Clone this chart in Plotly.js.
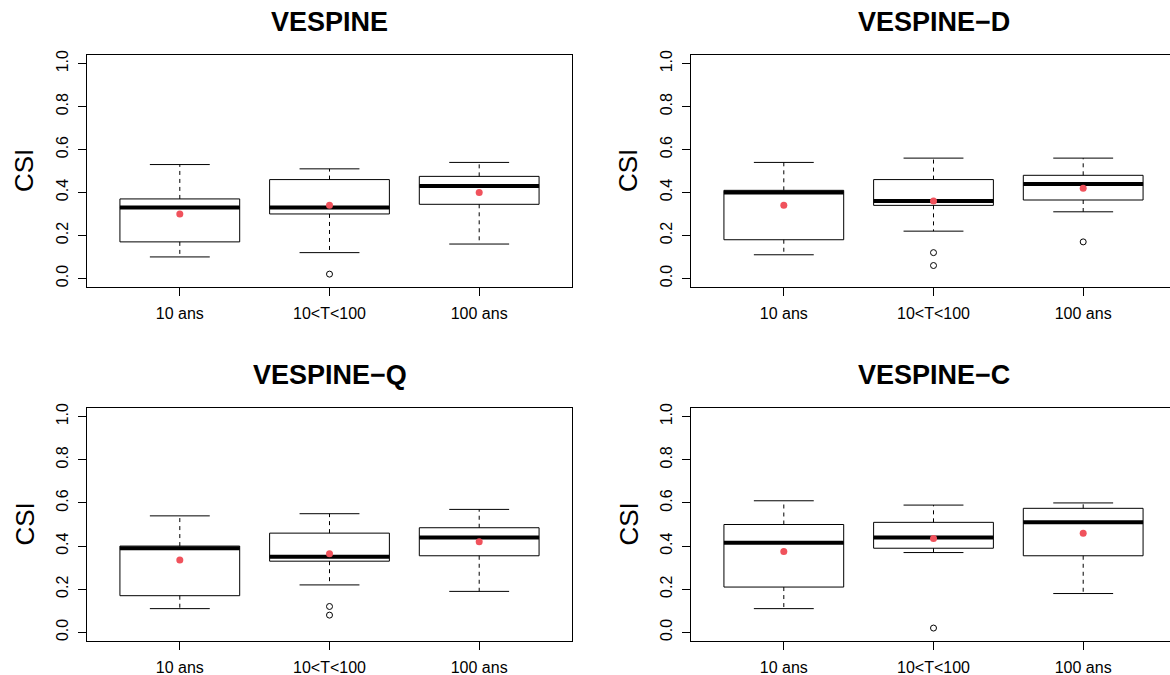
<!DOCTYPE html>
<html>
<head>
<meta charset="utf-8">
<script src="https://cdn.plot.ly/plotly-3.0.1.min.js"></script>
<style>
  html, body { margin: 0; padding: 0; background: #ffffff; }
  #chart { width: 1170px; height: 675px; }
</style>
</head>
<body>
<div id="chart"></div>
<script>
// ---------------- data ----------------
var categories = ['10 ans', '10<T<100', '100 ans'];
var panelTitles = ['VESPINE', 'VESPINE\u2212D', 'VESPINE\u2212Q', 'VESPINE\u2212C'];
var yLabel = 'CSI';
var yTickVals = [0, 0.2, 0.4, 0.6, 0.8, 1.0];
var yTickText = ['0.0', '0.2', '0.4', '0.6', '0.8', '1.0'];

// one row per panel, one value per category
var lowerWhisker = [
  [0.10, 0.12, 0.16],
  [0.11, 0.22, 0.31],
  [0.11, 0.22, 0.19],
  [0.11, 0.37, 0.18]
];
var q1 = [
  [0.17, 0.30, 0.345],
  [0.18, 0.34, 0.365],
  [0.17, 0.33, 0.355],
  [0.21, 0.39, 0.355]
];
var median = [
  [0.33, 0.33, 0.43],
  [0.40, 0.36, 0.44],
  [0.39, 0.35, 0.44],
  [0.415, 0.44, 0.51]
];
var q3 = [
  [0.37, 0.46, 0.475],
  [0.41, 0.46, 0.48],
  [0.40, 0.46, 0.485],
  [0.50, 0.51, 0.575]
];
var upperWhisker = [
  [0.53, 0.51, 0.54],
  [0.54, 0.56, 0.56],
  [0.54, 0.55, 0.57],
  [0.61, 0.59, 0.60]
];
var means = [
  [0.30, 0.34, 0.40],
  [0.34, 0.36, 0.42],
  [0.335, 0.365, 0.42],
  [0.375, 0.435, 0.46]
];
var outliers = [
  [[], [0.02], []],
  [[], [0.12, 0.06], [0.17]],
  [[], [0.12, 0.08], []],
  [[], [0.02], []]
];

// ---------------- drawing ----------------
var FONT = 'Liberation Sans, Arial, Helvetica, sans-serif';
var W = 1170, H = 675;
var BOX_W = 0.8, CAP_W = 0.4;
var pos = categories.map(function (c, i) { return i + 1; });

// plot-region geometry in pixels (left, right, top, bottom)
var pxPerUnit = (572 - 87) / 3.24;
var regions = [
  { l: 87,  r: 572,  t: 55,  b: 287 },
  { l: 691, r: 1170, t: 55,  b: 287 },
  { l: 87,  r: 572,  t: 408, b: 641 },
  { l: 691, r: 1170, t: 408, b: 641 }
];

var traces = [];
var layout = {
  width: W, height: H,
  margin: { l: 0, r: 0, t: 0, b: 0 },
  paper_bgcolor: '#ffffff',
  plot_bgcolor: '#ffffff',
  showlegend: false,
  hovermode: false,
  font: { family: FONT, color: '#000000', size: 16 },
  annotations: []
};

panelTitles.forEach(function (title, p) {
  var rg = regions[p];
  var xa = 'x' + (p === 0 ? '' : p + 1);
  var ya = 'y' + (p === 0 ? '' : p + 1);
  var xKey = 'xaxis' + (p === 0 ? '' : p + 1);
  var yKey = 'yaxis' + (p === 0 ? '' : p + 1);
  var cutRight = (p % 2 === 1);

  layout[xKey] = {
    domain: [rg.l / W, rg.r / W],
    range: [0.38, 0.38 + (rg.r - rg.l) / pxPerUnit],
    anchor: ya,
    tickmode: 'array', tickvals: pos, ticktext: categories,
    ticks: 'outside', ticklen: 8, tickwidth: 1, tickcolor: '#000',
    ticklabelstandoff: 4,
    showline: true, mirror: true, linecolor: '#000', linewidth: 1,
    showgrid: false, zeroline: false,
    tickfont: { family: FONT, size: 16, color: '#000' },
    fixedrange: true
  };
  layout[yKey] = {
    domain: [1 - rg.b / H, 1 - rg.t / H],
    range: [-0.04, 1.04],
    anchor: xa,
    tickmode: 'array', tickvals: yTickVals, ticktext: yTickText,
    tickangle: -90,
    ticks: 'outside', ticklen: 8, tickwidth: 1, tickcolor: '#000',
    ticklabelstandoff: 4,
    showline: true, mirror: cutRight ? false : true, linecolor: '#000', linewidth: 1,
    showgrid: false, zeroline: false,
    tickfont: { family: FONT, size: 16, color: '#000' },
    fixedrange: true
  };

  // boxes (whiskers drawn separately, dashed as in R)
  traces.push({
    type: 'box', xaxis: xa, yaxis: ya,
    x: pos, q1: q1[p], median: median[p], q3: q3[p],
    lowerfence: q1[p], upperfence: q3[p],
    width: BOX_W, whiskerwidth: 0,
    fillcolor: '#ffffff',
    line: { color: '#000000', width: 1 },
    boxpoints: false, hoverinfo: 'skip'
  });

  // dashed whiskers
  var wx = [], wy = [];
  pos.forEach(function (x, i) {
    wx.push(x, x, null, x, x, null);
    wy.push(q3[p][i], upperWhisker[p][i], null, q1[p][i], lowerWhisker[p][i], null);
  });
  traces.push({
    type: 'scatter', mode: 'lines', xaxis: xa, yaxis: ya,
    x: wx, y: wy, line: { color: '#000', width: 1, dash: '4px,4px' },
    hoverinfo: 'skip'
  });

  // whisker caps
  var cx = [], cy = [];
  pos.forEach(function (x, i) {
    cx.push(x - CAP_W / 2, x + CAP_W / 2, null, x - CAP_W / 2, x + CAP_W / 2, null);
    cy.push(upperWhisker[p][i], upperWhisker[p][i], null, lowerWhisker[p][i], lowerWhisker[p][i], null);
  });
  traces.push({
    type: 'scatter', mode: 'lines', xaxis: xa, yaxis: ya,
    x: cx, y: cy, line: { color: '#000', width: 1 },
    hoverinfo: 'skip'
  });

  // thick medians
  var mx = [], my = [];
  pos.forEach(function (x, i) {
    mx.push(x - BOX_W / 2, x + BOX_W / 2, null);
    my.push(median[p][i], median[p][i], null);
  });
  traces.push({
    type: 'scatter', mode: 'lines', xaxis: xa, yaxis: ya,
    x: mx, y: my, line: { color: '#000', width: 4 },
    hoverinfo: 'skip'
  });

  // outliers
  var ox = [], oy = [];
  pos.forEach(function (x, i) {
    outliers[p][i].forEach(function (v) { ox.push(x); oy.push(v); });
  });
  traces.push({
    type: 'scatter', mode: 'markers', xaxis: xa, yaxis: ya,
    x: ox, y: oy,
    marker: { symbol: 'circle-open', size: 6, color: '#000', line: { width: 1, color: '#000' } },
    hoverinfo: 'skip'
  });

  // means
  traces.push({
    type: 'scatter', mode: 'markers', xaxis: xa, yaxis: ya,
    x: pos, y: means[p],
    marker: { symbol: 'circle', size: 7, color: '#F0525C' },
    hoverinfo: 'skip'
  });

  // panel title, centred on the full plot region
  var fullRight = rg.l + 3.24 * pxPerUnit;
  layout.annotations.push({
    xref: 'paper', yref: 'paper',
    x: ((rg.l + fullRight) / 2) / W, y: 1 - (rg.t - 33) / H,
    xanchor: 'center', yanchor: 'middle',
    text: '<b>' + title + '</b>', showarrow: false,
    font: { family: FONT, size: 27, color: '#000' }
  });
  // y-axis label
  layout.annotations.push({
    xref: 'paper', yref: 'paper',
    x: (rg.l - 63) / W, y: 1 - ((rg.t + rg.b) / 2) / H,
    xanchor: 'center', yanchor: 'middle',
    text: yLabel, textangle: -90, showarrow: false,
    font: { family: FONT, size: 26, color: '#000' }
  });
});

Plotly.newPlot('chart', traces, layout, { staticPlot: true, displayModeBar: false });
</script>
</body>
</html>
